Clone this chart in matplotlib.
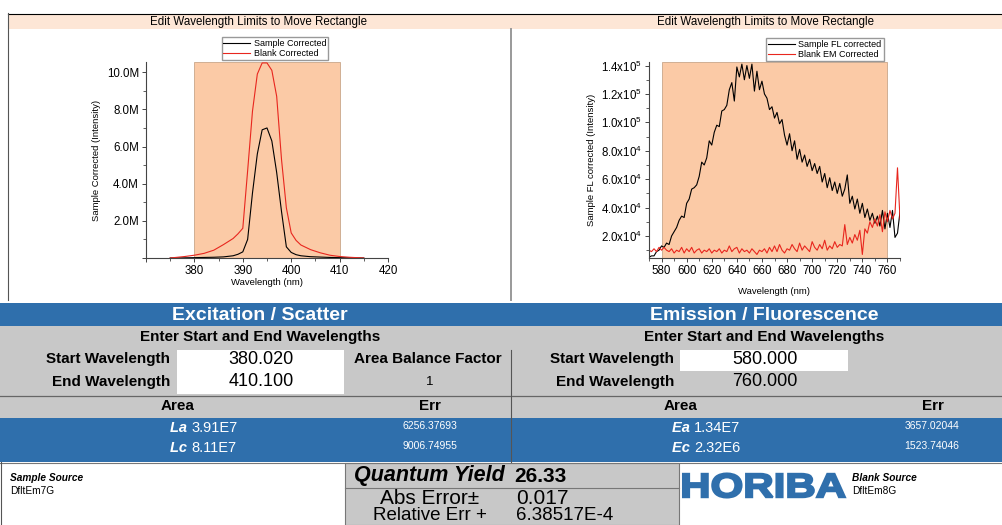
import numpy as np
import matplotlib
matplotlib.use("Agg")
import matplotlib.pyplot as plt
from matplotlib.patches import Rectangle, PathPatch
from matplotlib.textpath import TextPath
from matplotlib.font_manager import FontProperties
from matplotlib.transforms import Affine2D
from matplotlib.ticker import MultipleLocator, FuncFormatter

plt.rcParams['font.family'] = ['Liberation Sans', 'DejaVu Sans']

W, H = 1002, 525

# ---- excitation / scatter spectra (intensity in M counts) ----
ex_wl = [375, 378, 380, 382, 384, 386, 388, 389, 390, 391, 392, 393, 394, 395,
         396, 397, 398, 399, 400, 401, 402, 404, 406, 408, 410, 412, 415]
ex_sample = [0.0, 0.01, 0.02, 0.03, 0.04, 0.06, 0.12, 0.2, 0.33, 1.0, 3.5, 5.6, 6.9, 7.0,
             6.3, 4.6, 2.5, 0.6, 0.3, 0.18, 0.12, 0.07, 0.05, 0.03, 0.02, 0.01, 0.0]
ex_blank = [0.0, 0.08, 0.15, 0.25, 0.42, 0.72, 1.05, 1.3, 1.6, 4.7, 7.9, 9.9, 10.5, 10.5,
            10.1, 8.7, 5.3, 2.7, 1.35, 0.95, 0.7, 0.45, 0.28, 0.15, 0.08, 0.04, 0.0]

# ---- emission / fluorescence spectra (intensity in 1e4 counts) ----
em_wl = list(range(570, 771, 2))
em_sample = [0.5, 0.6, 0.6, 0.9, 1.0, 1.3, 1.2, 1.5, 1.4, 2.0,
             2.3, 2.6, 3.1, 3.4, 3.3, 4.3, 4.6, 5.3, 5.4, 5.6,
             6.2, 7.2, 7.0, 7.5, 8.7, 8.4, 9.3, 9.8, 9.7, 10.8,
             10.9, 11.2, 12.3, 12.8, 11.5, 13.9, 13.2, 14.1, 13.0, 14.0,
             13.1, 14.1, 12.2, 13.6, 12.3, 12.9, 12.0, 11.7, 10.9, 11.1,
             10.3, 10.7, 9.9, 10.2, 9.1, 8.4, 9.2, 8.0, 8.7, 7.4,
             8.1, 7.2, 7.7, 6.9, 7.4, 6.6, 7.1, 6.4, 6.9, 5.8,
             6.4, 5.4, 6.1, 5.2, 5.8, 5.0, 5.7, 4.8, 5.3, 6.3,
             4.3, 4.8, 3.9, 4.6, 3.6, 4.3, 3.3, 3.9, 3.1, 3.6,
             2.9, 3.4, 2.7, 3.8, 2.5, 3.6, 2.6, 3.8, 1.9, 2.2, 3.7]
em_blank = [1.0, 0.9, 1.1, 0.9, 1.2, 1.0, 1.2, 1.0, 0.9, 1.1,
            0.8, 1.0, 0.9, 1.2, 0.8, 1.1, 0.9, 1.2, 0.8, 1.0,
            1.1, 0.8, 1.0, 0.9, 1.1, 0.8, 1.0, 0.9, 1.1, 0.8,
            1.0, 0.9, 1.3, 0.9, 1.1, 1.2, 0.8, 1.1, 0.9, 1.0,
            0.8, 1.1, 0.9, 0.7, 1.0, 0.9, 1.1, 0.8, 1.2, 0.9,
            1.3, 0.9, 1.4, 1.0, 0.8, 1.1, 1.0, 1.4, 1.1, 0.9,
            1.5, 1.0, 1.3, 1.1, 0.9, 1.6, 1.2, 1.0, 1.4, 1.1,
            1.7, 1.0, 1.3, 1.1, 1.6, 1.2, 1.4, 1.3, 2.8, 1.4,
            1.9, 1.5, 2.1, 1.7, 2.4, 0.7, 2.5, 2.2, 3.0, 2.6,
            3.2, 2.7, 3.5, 2.3, 3.7, 3.0, 3.8, 3.2, 3.6, 6.8, 3.2]

ex_start, ex_end = 380.020, 410.100
em_start, em_end = 580.000, 760.000

BLUE = '#2f6fac'
GRAY = '#c8c8c8'
PEACH = '#fbcaa6'
HEAD = '#fde6d6'


def frac(x0, y0, x1, y1):
    return [x0 / W, 1 - y1 / H, (x1 - x0) / W, (y1 - y0) / H]


fig = plt.figure(figsize=(W / 100, H / 100), dpi=100)
bg = fig.add_axes([0, 0, 1, 1])
bg.set_xlim(0, W)
bg.set_ylim(H, 0)
bg.axis('off')


def box(x, y, w, h, fc, ec='none', lw=0, z=1):
    bg.add_patch(Rectangle((x, y), w, h, facecolor=fc, edgecolor=ec, linewidth=lw, zorder=z))


def txt(x, y, s, size, ha='center', weight='normal', style='normal', color='black'):
    bg.text(x, y, s, fontsize=size, ha=ha, va='center', fontweight=weight,
            fontstyle=style, color=color, zorder=5)


# chart panel frames
box(9, 14, 501, 15, HEAD)
box(505, 14, 497, 15, HEAD)
bg.plot([8, 1002], [13.5, 13.5], color='black', lw=0.8, zorder=3)
bg.plot([8.5, 8.5], [13, 300], color='#555555', lw=0.8, zorder=3)
bg.plot([511.5, 511.5], [29, 300], color='#999999', lw=1.4, zorder=3)
txt(259, 21.5, 'Edit Wavelength Limits to Move Rectangle', 8.3)
txt(766, 21.5, 'Edit Wavelength Limits to Move Rectangle', 8.3)

# table section
box(0, 303, W, 23, BLUE)
box(0, 326, W, 70, GRAY)
box(177, 350, 167, 44, 'white', z=2)
box(680, 350, 168, 21, 'white', z=2)
box(0, 396, W, 22, GRAY)
bg.plot([0, W], [395.5, 395.5], color='#666666', lw=0.9, zorder=3)
box(0, 418, W, 44, BLUE)
bg.plot([0, W], [462.5, 462.5], color='#777777', lw=0.8, zorder=3)
bg.plot([511.5, 511.5], [350, 462], color='#555555', lw=0.8, zorder=3)

txt(260, 316, 'Excitation / Scatter', 14, weight='bold', color='white')
txt(764, 316, 'Emission / Fluorescence', 14, weight='bold', color='white')
txt(260, 337, 'Enter Start and End Wavelengths', 11, weight='bold')
txt(764, 337, 'Enter Start and End Wavelengths', 11, weight='bold')

txt(170, 359, 'Start Wavelength', 11, ha='right', weight='bold')
txt(170, 382, 'End Wavelength', 11, ha='right', weight='bold')
txt(261, 359, f'{ex_start:.3f}', 13)
txt(261, 382, f'{ex_end:.3f}', 13)
txt(428, 359, 'Area Balance Factor', 11, weight='bold')
txt(430, 382, '1', 9.5)

txt(674, 359, 'Start Wavelength', 11, ha='right', weight='bold')
txt(674, 382, 'End Wavelength', 11, ha='right', weight='bold')
txt(765, 359, f'{em_start:.3f}', 13)
txt(765, 382, f'{em_end:.3f}', 13)

txt(178, 406, 'Area', 11, weight='bold')
txt(430, 406, 'Err', 11, weight='bold')
txt(681, 406, 'Area', 11, weight='bold')
txt(933, 406, 'Err', 11, weight='bold')

area_rows = [('La', '3.91E7', '6256.37693', 428, 193, 430),
             ('Lc', '8.11E7', '9006.74955', 448, 193, 430),
             ('Ea', '1.34E7', '3657.02044', 428, 696, 932),
             ('Ec', '2.32E6', '1523.74046', 448, 696, 932)]
for lab, val, err, y, xc, xe in area_rows:
    bg.text(xc - 2, y, lab + ' ', fontsize=10.5, ha='right', va='center',
            fontweight='bold', fontstyle='italic', color='white', zorder=5)
    bg.text(xc - 2, y, val, fontsize=10.5, ha='left', va='center', color='white', zorder=5)
    txt(xe, y - 2, err, 7.5, color='white')

# bottom section
box(345, 463, 334, 62, GRAY, ec='#777777', lw=0.8)
bg.plot([345, 679], [487.5, 487.5], color='#777777', lw=0.8, zorder=3)
bg.plot([1, 1], [462, 525], color='#555555', lw=0.8, zorder=3)
txt(10, 478, 'Sample Source', 7.3, ha='left', weight='bold', style='italic')
txt(10, 491, 'DfltEm7G', 7.3, ha='left')
txt(354, 476, 'Quantum Yield', 15.5, ha='left', weight='bold', style='italic')
txt(514, 476, '26.33', 15, ha='left', weight='bold')
txt(430, 498, 'Abs Error\u00b1', 15)
txt(516, 498, '0.017', 15, ha='left')
txt(430, 515.5, 'Relative Err +', 13.5)
txt(516, 515.5, '6.38517E-4', 13.5, ha='left')

# HORIBA logo, stretched to the width it has in the original
logo = TextPath((0, 0), 'HORIBA', size=1, prop=FontProperties(family='Liberation Sans', weight='bold'))
ext = logo.get_extents()
sx = 162 / ext.width
sy = 24 / ext.height
tr = Affine2D().translate(-ext.x0, -ext.y0).scale(sx, -sy).translate(683, 497.5)
bg.add_patch(PathPatch(tr.transform_path(logo), facecolor=BLUE, edgecolor=BLUE, lw=1.5, zorder=5))
txt(852, 478, 'Blank Source', 7.3, ha='left', weight='bold', style='italic')
txt(852, 491, 'DfltEm8G', 7.3, ha='left')


def style_axis(ax):
    ax.set_facecolor('none')
    for s in ('top', 'right'):
        ax.spines[s].set_visible(False)
    for s in ('left', 'bottom'):
        ax.spines[s].set_color('#444444')
        ax.spines[s].set_linewidth(0.8)
    ax.tick_params(which='major', length=3, width=0.7, labelsize=8.3, color='#444444', pad=2)
    ax.tick_params(which='minor', length=2, width=0.6, color='#444444')


# left chart
ax1 = fig.add_axes(frac(146, 62, 388, 258), zorder=4)
style_axis(ax1)
ax1.axvspan(ex_start, ex_end, facecolor=PEACH, edgecolor='#c9a68a', lw=0.6, zorder=0)
ax1.plot(ex_wl, np.array(ex_sample) * 1e6, color='black', lw=0.8, label='Sample Corrected')
ax1.plot(ex_wl, np.array(ex_blank) * 1e6, color='#e8261e', lw=0.8, label='Blank Corrected')
ax1.set_xlim(370, 420)
ax1.set_ylim(0, 10.55e6)
ax1.xaxis.set_major_locator(MultipleLocator(10))
ax1.xaxis.set_minor_locator(MultipleLocator(5))
ax1.yaxis.set_major_locator(MultipleLocator(2e6))
ax1.yaxis.set_minor_locator(MultipleLocator(1e6))
ax1.xaxis.set_major_formatter(FuncFormatter(lambda v, p: '' if v < 380 else '%d' % v))
ax1.yaxis.set_major_formatter(FuncFormatter(lambda v, p: '' if v <= 0 else '%.1fM' % (v / 1e6)))
ax1.set_xlabel('Wavelength (nm)', fontsize=6.8, labelpad=1)
ax1.set_ylabel('Sample Corrected (Intensity)', fontsize=6.8, labelpad=4)
ax1.legend(loc='lower center', bbox_to_anchor=(275 / W, 1 - 60 / H), bbox_transform=fig.transFigure,
           fontsize=6.5, frameon=True, fancybox=False, edgecolor='#999999', framealpha=1,
           borderpad=0.2, labelspacing=0.1, handlelength=3, handletextpad=0.4, borderaxespad=0)

# right chart
ax2 = fig.add_axes(frac(649, 62, 900, 258), zorder=4)
style_axis(ax2)
ax2.axvspan(em_start, em_end, facecolor=PEACH, edgecolor='#c9a68a', lw=0.6, zorder=0)
ax2.plot(em_wl, np.array(em_sample) * 1e4, color='black', lw=0.8, label='Sample FL corrected')
ax2.plot(em_wl, np.array(em_blank) * 1e4, color='#e8261e', lw=0.8, label='Blank EM Corrected')
ax2.set_xlim(570, 770)
ax2.set_ylim(4500, 142500)
ax2.xaxis.set_major_locator(MultipleLocator(20))
ax2.xaxis.set_minor_locator(MultipleLocator(10))
ax2.yaxis.set_major_locator(MultipleLocator(2e4))
ax2.yaxis.set_minor_locator(MultipleLocator(1e4))


def sci(v, p):
    if v <= 0:
        return ''
    e = int(np.floor(np.log10(v)))
    return r'$\mathregular{%.1fx10^{%d}}$' % (v / 10 ** e, e)


ax2.yaxis.set_major_formatter(FuncFormatter(sci))
ax2.set_xlabel('Wavelength (nm)', fontsize=6.8, labelpad=7)
ax2.set_ylabel('Sample FL corrected (Intensity)', fontsize=6.8, labelpad=4)
ax2.legend(loc='lower left', bbox_to_anchor=(766 / W, 1 - 61 / H), bbox_transform=fig.transFigure,
           fontsize=6.5, frameon=True, fancybox=False, edgecolor='#999999', framealpha=1,
           borderpad=0.2, labelspacing=0.1, handlelength=3, handletextpad=0.4, borderaxespad=0)

fig.savefig('out.png', dpi=100)
